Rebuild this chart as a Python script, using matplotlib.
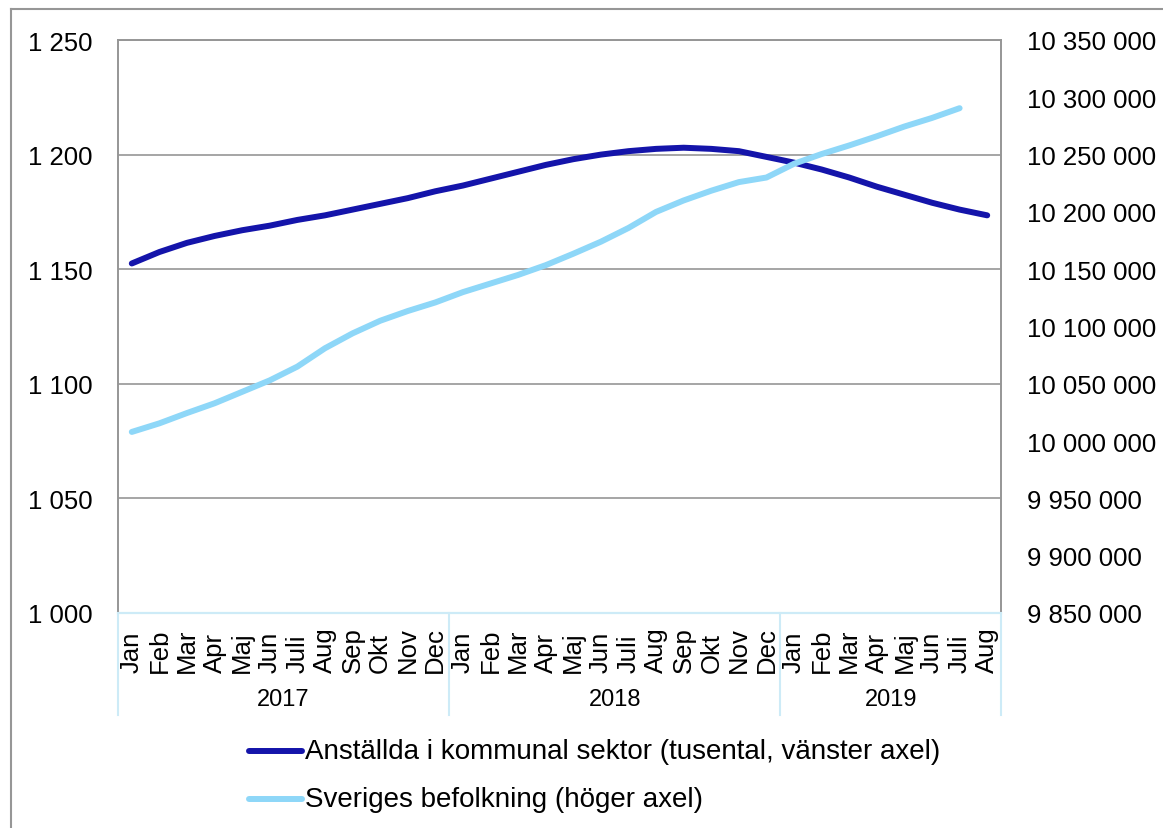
import matplotlib
matplotlib.use("Agg")
import matplotlib.pyplot as plt
from matplotlib.lines import Line2D
from matplotlib.ticker import FuncFormatter, MultipleLocator

plt.rcParams['font.family'] = ['Liberation Sans', 'DejaVu Sans']

months = ["Jan", "Feb", "Mar", "Apr", "Maj", "Jun", "Juli", "Aug", "Sep", "Okt", "Nov", "Dec",
          "Jan", "Feb", "Mar", "Apr", "Maj", "Jun", "Juli", "Aug", "Sep", "Okt", "Nov", "Dec",
          "Jan", "Feb", "Mar", "Apr", "Maj", "Jun", "Juli", "Aug"]
years = ["2017", "2018", "2019"]
year_months = [12, 12, 8]

employed = [1152.5, 1157.5, 1161.5, 1164.5, 1167, 1169, 1171.5, 1173.5, 1176, 1178.5, 1181, 1184,
            1186.5, 1189.5, 1192.5, 1195.5, 1198, 1200, 1201.5, 1202.5, 1203, 1202.5, 1201.5, 1199,
            1196.5, 1193.5, 1190, 1186, 1182.5, 1179, 1176, 1173.5]

population = [10008000, 10015500, 10024500, 10033000, 10043000, 10053000, 10065000, 10081000,
              10094000, 10105000, 10113500, 10121000, 10130000, 10137500, 10145000, 10153500,
              10163500, 10174000, 10186000, 10200000, 10210000, 10218500, 10226000, 10230000,
              10242000, 10250500, 10258000, 10266000, 10274500, 10282000, 10290500]

label_emp = "Anställda i kommunal sektor (tusental, vänster axel)"
label_pop = "Sveriges befolkning (höger axel)"

DARK = "#1414AA"
LIGHT = "#8ED7F8"
GRID = "#969696"
CATLINE = "#CDEBF7"

W, H = 1163, 829
fig = plt.figure(figsize=(W / 100, H / 100), dpi=100)

def fx(px):
    return px / W

def fy(py):
    return 1 - py / H

L, R, T, B = 118, 1001, 41, 614
ax = fig.add_axes([fx(L), fy(B), fx(R) - fx(L), fy(T) - fy(B)])
ax2 = ax.twinx()

def space_fmt(v, pos):
    s = f"{int(round(v)):,}".replace(",", " ")
    return s

x_emp = list(range(len(employed)))
x_pop = list(range(len(population)))

ax.plot(x_emp, employed, color=DARK, lw=4.3, solid_capstyle='round', solid_joinstyle='round', zorder=3)
ax2.plot(x_pop, population, color=LIGHT, lw=4.3, solid_capstyle='round', solid_joinstyle='round', zorder=3)

ax.set_xlim(-0.5, len(months) - 0.5)
ax.set_ylim(1000, 1250)
ax.yaxis.set_major_locator(MultipleLocator(50))
ax.yaxis.set_major_formatter(FuncFormatter(space_fmt))
ax2.set_ylim(9850000, 10350000)
ax2.yaxis.set_major_locator(MultipleLocator(50000))
ax2.yaxis.set_major_formatter(FuncFormatter(space_fmt))

ax.grid(axis='y', color=GRID, lw=1.2)
ax.set_axisbelow(True)
ax.set_xticks([])
ax.tick_params(axis='y', length=0, pad=18, labelsize=18.5, colors='black')
ax2.tick_params(axis='y', length=0, pad=18.5, labelsize=18.5, colors='black')

for a in (ax, ax2):
    for side in ('left', 'right', 'top'):
        a.spines[side].set_color(GRID)
        a.spines[side].set_linewidth(1.2)
    a.spines['bottom'].set_color(CATLINE)
    a.spines['bottom'].set_linewidth(1.5)

# category labels
blend = ax.get_xaxis_transform()
for i, m in enumerate(months):
    ax.text(i, (B - 673) / (B - T), m, rotation=90, ha='center', va='bottom',
            fontsize=18.5, transform=blend, clip_on=False)

# year group separators and labels
sep_bottom = (B - 716) / (B - T)
start = 0
boundaries = [start]
for n in year_months:
    start += n
    boundaries.append(start)
for b in boundaries:
    ax.add_line(Line2D([b - 0.5, b - 0.5], [0, sep_bottom], transform=blend,
                       color=CATLINE, lw=1.5, clip_on=False))
for k, yr in enumerate(years):
    c = (boundaries[k] + boundaries[k + 1] - 1) / 2
    ax.text(c, (B - 700) / (B - T), yr, ha='center', va='center', fontsize=17,
            transform=blend, clip_on=False)

# outer frame (top and left visible)
fig.add_artist(Line2D([fx(11), 1], [fy(10), fy(10)], color=GRID, lw=1.5))
fig.add_artist(Line2D([fx(11), fx(11)], [fy(10), 0], color=GRID, lw=1.5))

# legend
for yy, col, lab in [(752, DARK, label_emp), (800, LIGHT, label_pop)]:
    fig.add_artist(Line2D([fx(249), fx(302)], [fy(yy), fy(yy)], color=col, lw=4.3,
                          solid_capstyle='round'))
    fig.text(fx(305), fy(yy), lab, ha='left', va='center', fontsize=20)

fig.savefig("out.png", dpi=100)
